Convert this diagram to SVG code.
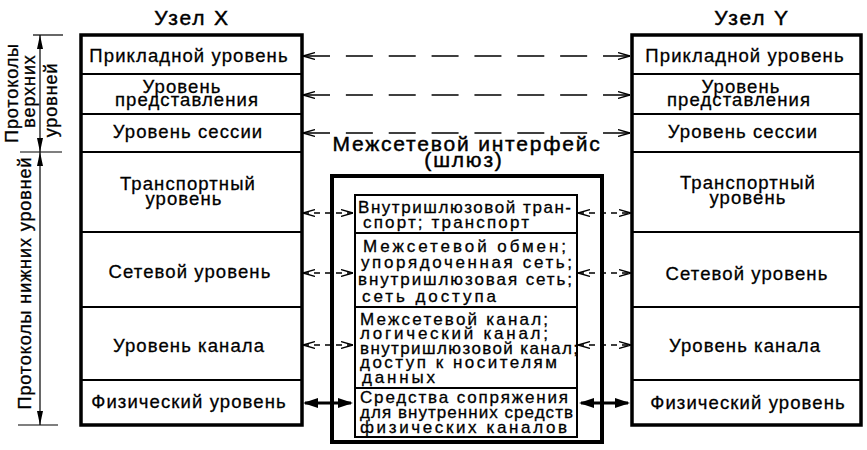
<svg xmlns="http://www.w3.org/2000/svg" width="867" height="450" viewBox="0 0 867 450">
<style>
.bg{fill:#fff}
.t{font-family:"Liberation Sans",Arial,sans-serif;font-size:18.5px;letter-spacing:1.1px;fill:#000;stroke:#000;stroke-width:0.3;text-anchor:middle}
.h{font-family:"Liberation Sans",Arial,sans-serif;font-size:21px;letter-spacing:1.8px;fill:#000;stroke:#000;stroke-width:0.45;text-anchor:middle}
.g{font-family:"Liberation Sans",Arial,sans-serif;font-size:17px;fill:#000;stroke:#000;stroke-width:0.3;text-anchor:start}
.v{font-family:"Liberation Sans",Arial,sans-serif;font-size:18px;letter-spacing:0.9px;fill:#000;stroke:#000;stroke-width:0.3;text-anchor:middle}
.layer{fill:#fff;stroke:#000;stroke-width:2}
.frame{fill:none;stroke:#000;stroke-width:3.5}
.gframe{fill:#fff;stroke:#000;stroke-width:4}
.dash{fill:none;stroke:#000;stroke-width:1.4;stroke-dasharray:27 15.86}
.sdash{fill:none;stroke:#000;stroke-width:1.4;stroke-dasharray:6 5}
.thick{fill:none;stroke:#000;stroke-width:3}
.dim{fill:none;stroke:#000;stroke-width:1.2}
</style>
<defs>
<marker id="open" viewBox="0 0 12 8" refX="12" refY="4" markerWidth="12" markerHeight="8" markerUnits="userSpaceOnUse" orient="auto-start-reverse"><path d="M0,0.6 L12,4 L0,7.4" fill="none" stroke="#000" stroke-width="1.4"/></marker>
<marker id="solid" viewBox="0 0 15 10" refX="13" refY="5" markerWidth="15" markerHeight="10" markerUnits="userSpaceOnUse" orient="auto-start-reverse"><path d="M0,0 L15,5 L0,10 z" fill="#000"/></marker>
<marker id="dimarrow" viewBox="0 0 14 6" refX="14" refY="3" markerWidth="14" markerHeight="6" markerUnits="userSpaceOnUse" orient="auto-start-reverse"><path d="M0,0 L14,3 L0,6 z" fill="#000"/></marker>
</defs>
<rect class="bg" x="0" y="0" width="867" height="450"/>

<g id="node-x">
<text class="h" x="192" y="25">Узел X</text>
<g id="x-app"><rect class="layer" x="81" y="35" width="221" height="39"/><text class="t" x="189" y="62">Прикладной уровень</text></g>
<g id="x-pres"><rect class="layer" x="81" y="74" width="221" height="40"/><text class="t" x="182" y="93">Уровень</text><text class="t" x="187" y="106">представления</text></g>
<g id="x-sess"><rect class="layer" x="81" y="114" width="221" height="38"/><text class="t" x="188" y="138">Уровень сессии</text></g>
<g id="x-trans"><rect class="layer" x="81" y="152" width="221" height="80"/><text class="t" x="188" y="190">Транспортный</text><text class="t" x="184" y="205">уровень</text></g>
<g id="x-net"><rect class="layer" x="81" y="232" width="221" height="75"/><text class="t" x="190" y="278">Сетевой уровень</text></g>
<g id="x-link"><rect class="layer" x="81" y="307" width="221" height="73"/><text class="t" x="189" y="352">Уровень канала</text></g>
<g id="x-phys"><rect class="layer" x="81" y="380" width="221" height="45"/><text class="t" x="189" y="408">Физический уровень</text></g>
<rect class="frame" x="81" y="35" width="221" height="390"/>
</g>

<g id="node-y">
<text class="h" x="752" y="25">Узел Y</text>
<g id="y-app"><rect class="layer" x="632" y="35" width="229" height="39"/><text class="t" x="745" y="62">Прикладной уровень</text></g>
<g id="y-pres"><rect class="layer" x="632" y="74" width="229" height="40"/><text class="t" x="741" y="93">Уровень</text><text class="t" x="739" y="106">представления</text></g>
<g id="y-sess"><rect class="layer" x="632" y="114" width="229" height="38"/><text class="t" x="743" y="138">Уровень сессии</text></g>
<g id="y-trans"><rect class="layer" x="632" y="152" width="229" height="80"/><text class="t" x="748" y="189">Транспортный</text><text class="t" x="748" y="204">уровень</text></g>
<g id="y-net"><rect class="layer" x="632" y="232" width="229" height="75"/><text class="t" x="747" y="280">Сетевой уровень</text></g>
<g id="y-link"><rect class="layer" x="632" y="307" width="229" height="73"/><text class="t" x="745" y="352">Уровень канала</text></g>
<g id="y-phys"><rect class="layer" x="632" y="380" width="229" height="45"/><text class="t" x="748" y="409">Физический уровень</text></g>
<rect class="frame" x="632" y="35" width="229" height="390"/>
</g>

<g id="gateway">
<text class="h" x="467" y="151">Межсетевой интерфейс</text>
<text class="h" x="464" y="167">(шлюз)</text>
<rect class="gframe" x="332" y="176" width="270" height="266"/>
<g id="gw-trans"><rect class="layer" x="355" y="195" width="222" height="38"/>
<text class="g" x="358" y="213" textLength="213">Внутришлюзовой тран-</text>
<text class="g" x="363" y="228" textLength="166">спорт; транспорт</text></g>
<g id="gw-net"><rect class="layer" x="355" y="233" width="222" height="74"/>
<text class="g" x="363" y="252" textLength="203">Межсетевой обмен;</text>
<text class="g" x="361" y="268" textLength="211">упорядоченная сеть;</text>
<text class="g" x="358" y="285" textLength="214">внутришлюзовая сеть;</text>
<text class="g" x="362" y="302" textLength="134">сеть доступа</text></g>
<g id="gw-link"><rect class="layer" x="355" y="307" width="222" height="81"/>
<text class="g" x="360" y="325" textLength="188">Межсетевой канал;</text>
<text class="g" x="360" y="339" textLength="188">логический канал;</text>
<text class="g" x="360" y="354" textLength="218">внутришлюзовой канал;</text>
<text class="g" x="360" y="368" textLength="197">доступ к носителям</text>
<text class="g" x="362" y="383" textLength="73">данных</text></g>
<g id="gw-phys"><rect class="layer" x="355" y="388" width="222" height="49"/>
<text class="g" x="360" y="403" textLength="208">Средства сопряжения</text>
<text class="g" x="360" y="418" textLength="213">для внутренних средств</text>
<text class="g" x="360" y="433" textLength="207">физических каналов</text></g>
</g>

<g id="connectors">
<line class="dash" x1="303" y1="56" x2="630" y2="56" marker-start="url(#open)" marker-end="url(#open)"/>
<line class="dash" x1="303" y1="95" x2="630" y2="95" marker-start="url(#open)" marker-end="url(#open)"/>
<line class="dash" x1="303" y1="133" x2="630" y2="133" marker-start="url(#open)" marker-end="url(#open)"/>
<line class="sdash" x1="303" y1="213" x2="353" y2="213" marker-start="url(#open)" marker-end="url(#open)"/>
<line class="sdash" x1="578" y1="213" x2="631" y2="213" marker-start="url(#open)" marker-end="url(#open)"/>
<line class="sdash" x1="303" y1="273" x2="353" y2="273" marker-start="url(#open)" marker-end="url(#open)"/>
<line class="sdash" x1="578" y1="273" x2="631" y2="273" marker-start="url(#open)" marker-end="url(#open)"/>
<line class="sdash" x1="303" y1="345" x2="353" y2="345" marker-start="url(#open)" marker-end="url(#open)"/>
<line class="sdash" x1="578" y1="345" x2="631" y2="345" marker-start="url(#open)" marker-end="url(#open)"/>
<line class="thick" x1="305" y1="403" x2="351" y2="403" marker-start="url(#solid)" marker-end="url(#solid)"/>
<line class="thick" x1="581" y1="403" x2="628" y2="403" marker-start="url(#solid)" marker-end="url(#solid)"/>
</g>

<g id="dimensions">
<line class="dim" x1="33" y1="35" x2="63" y2="35"/>
<line class="dim" x1="20" y1="152" x2="62" y2="152"/>
<line class="dim" x1="18" y1="425" x2="58" y2="425"/>
<line class="dim" x1="40" y1="35" x2="40" y2="152" marker-start="url(#dimarrow)" marker-end="url(#dimarrow)"/>
<line class="dim" x1="40" y1="152" x2="40" y2="425" marker-start="url(#dimarrow)" marker-end="url(#dimarrow)"/>
<text class="v" transform="translate(18,93) rotate(-90)">Протоколы</text>
<text class="v" transform="translate(35,91) rotate(-90)">верхних</text>
<text class="v" transform="translate(57,100) rotate(-90)">уровней</text>
<text class="v" transform="translate(31,283) rotate(-90)">Протоколы нижних уровней</text>
</g>
</svg>
